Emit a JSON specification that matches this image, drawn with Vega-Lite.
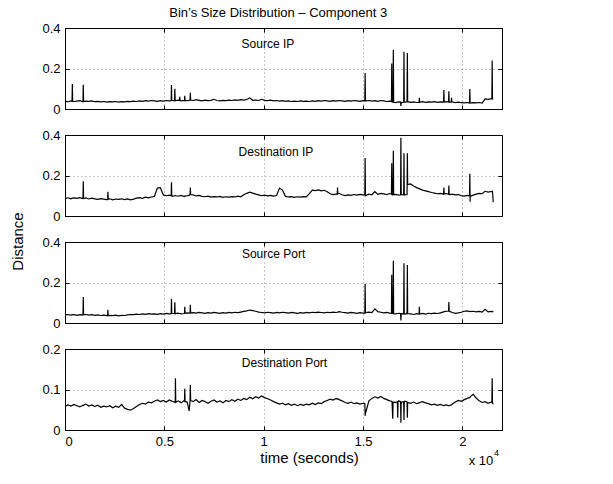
{
"$schema": "https://vega.github.io/schema/vega-lite/v6.json",
"padding": {"left": 9, "top": 6, "right": 5, "bottom": 5},
"title": {"text": "Bin’s Size Distribution – Component 3", "font": "Liberation Sans", "fontSize": 13, "fontWeight": "normal", "color": "black", "anchor": "middle", "offset": 2, "dx": 22},
"config": {
 "font": "Liberation Sans",
 "view": {"stroke": "black", "strokeWidth": 1},
 "axis": {"domainColor": "black", "domainWidth": 1, "tickColor": "black", "tickSize": -4, "labelFontSize": 13, "labelColor": "black", "labelFont": "Liberation Sans", "labelPadding": 9, "gridColor": "black", "gridDash": [1, 3], "gridOpacity": 0.55, "gridWidth": 0.8, "titleFontSize": 15, "titleFontWeight": "normal", "titleColor": "black", "titleFont": "Liberation Sans"}
},
"data": {"values": [
{"t":0,"a":0.038,"b":0.086,"c":0.040,"d":0.058},
{"t":150,"a":0.036,"b":0.090,"c":0.042,"d":0.062},
{"t":300,"a":0.040,"b":0.085,"c":0.039,"d":0.059},
{"t":450,"a":0.037,"b":0.089,"c":0.041,"d":0.063},
{"t":600,"a":0.039,"b":0.087,"c":0.038,"d":0.060},
{"t":750,"a":0.041,"b":0.091,"c":0.041,"d":0.057},
{"t":900,"a":0.036,"b":0.086,"c":0.040,"d":0.061},
{"t":1050,"a":0.039,"b":0.089,"c":0.042,"d":0.064},
{"t":1200,"a":0.038,"b":0.084,"c":0.039,"d":0.059},
{"t":1350,"a":0.040,"b":0.088,"c":0.041,"d":0.062},
{"t":1500,"a":0.036,"b":0.085,"c":0.038,"d":0.058},
{"t":1650,"a":0.038,"b":0.082,"c":0.040,"d":0.061},
{"t":1800,"a":0.035,"b":0.086,"c":0.037,"d":0.056},
{"t":1950,"a":0.037,"b":0.083,"c":0.039,"d":0.059},
{"t":2100,"a":0.034,"b":0.081,"c":0.036,"d":0.057},
{"t":2250,"a":0.036,"b":0.085,"c":0.038,"d":0.060},
{"t":2400,"a":0.035,"b":0.080,"c":0.036,"d":0.055},
{"t":2550,"a":0.037,"b":0.084,"c":0.039,"d":0.059},
{"t":2700,"a":0.034,"b":0.082,"c":0.035,"d":0.056},
{"t":2850,"a":0.036,"b":0.085,"c":0.038,"d":0.063},
{"t":3000,"a":0.035,"b":0.081,"c":0.037,"d":0.054},
{"t":3150,"a":0.038,"b":0.084,"c":0.040,"d":0.051},
{"t":3300,"a":0.036,"b":0.080,"c":0.042,"d":0.049},
{"t":3450,"a":0.039,"b":0.083,"c":0.041,"d":0.053},
{"t":3600,"a":0.037,"b":0.088,"c":0.044,"d":0.058},
{"t":3750,"a":0.040,"b":0.091,"c":0.042,"d":0.063},
{"t":3900,"a":0.038,"b":0.087,"c":0.045,"d":0.066},
{"t":4050,"a":0.041,"b":0.093,"c":0.043,"d":0.064},
{"t":4200,"a":0.039,"b":0.090,"c":0.046,"d":0.069},
{"t":4350,"a":0.042,"b":0.094,"c":0.044,"d":0.067},
{"t":4500,"a":0.040,"b":0.097,"c":0.045,"d":0.071},
{"t":4650,"a":0.038,"b":0.138,"c":0.043,"d":0.074},
{"t":4800,"a":0.041,"b":0.140,"c":0.046,"d":0.070},
{"t":4950,"a":0.039,"b":0.104,"c":0.044,"d":0.073},
{"t":5100,"a":0.042,"b":0.100,"c":0.047,"d":0.069},
{"t":5250,"a":0.040,"b":0.103,"c":0.045,"d":0.074},
{"t":5400,"a":0.043,"b":0.097,"c":0.048,"d":0.071},
{"t":5550,"a":0.041,"b":0.101,"c":0.046,"d":0.068},
{"t":5700,"a":0.044,"b":0.098,"c":0.049,"d":0.072},
{"t":5850,"a":0.040,"b":0.102,"c":0.045,"d":0.067},
{"t":6000,"a":0.043,"b":0.096,"c":0.047,"d":0.073},
{"t":6150,"a":0.041,"b":0.100,"c":0.050,"d":0.069},
{"t":6450,"a":0.042,"b":0.104,"c":0.051,"d":0.070},
{"t":6600,"a":0.046,"b":0.099,"c":0.049,"d":0.075},
{"t":6750,"a":0.043,"b":0.102,"c":0.052,"d":0.068},
{"t":6900,"a":0.040,"b":0.097,"c":0.050,"d":0.073},
{"t":7050,"a":0.044,"b":0.095,"c":0.048,"d":0.070},
{"t":7200,"a":0.041,"b":0.098,"c":0.051,"d":0.066},
{"t":7350,"a":0.043,"b":0.093,"c":0.049,"d":0.071},
{"t":7500,"a":0.048,"b":0.096,"c":0.052,"d":0.074},
{"t":7650,"a":0.042,"b":0.094,"c":0.050,"d":0.069},
{"t":7800,"a":0.040,"b":0.097,"c":0.048,"d":0.072},
{"t":7950,"a":0.043,"b":0.092,"c":0.051,"d":0.067},
{"t":8100,"a":0.041,"b":0.095,"c":0.049,"d":0.073},
{"t":8250,"a":0.044,"b":0.093,"c":0.052,"d":0.070},
{"t":8400,"a":0.042,"b":0.096,"c":0.050,"d":0.075},
{"t":8550,"a":0.045,"b":0.094,"c":0.053,"d":0.071},
{"t":8700,"a":0.043,"b":0.098,"c":0.051,"d":0.076},
{"t":8850,"a":0.046,"b":0.095,"c":0.054,"d":0.073},
{"t":9000,"a":0.044,"b":0.105,"c":0.057,"d":0.078},
{"t":9150,"a":0.047,"b":0.112,"c":0.060,"d":0.075},
{"t":9300,"a":0.055,"b":0.118,"c":0.064,"d":0.081},
{"t":9450,"a":0.043,"b":0.113,"c":0.061,"d":0.077},
{"t":9600,"a":0.044,"b":0.108,"c":0.058,"d":0.082},
{"t":9750,"a":0.042,"b":0.104,"c":0.054,"d":0.079},
{"t":9900,"a":0.048,"b":0.100,"c":0.052,"d":0.084},
{"t":10050,"a":0.043,"b":0.103,"c":0.050,"d":0.080},
{"t":10200,"a":0.041,"b":0.099,"c":0.053,"d":0.077},
{"t":10350,"a":0.044,"b":0.102,"c":0.051,"d":0.074},
{"t":10500,"a":0.040,"b":0.098,"c":0.049,"d":0.070},
{"t":10650,"a":0.042,"b":0.101,"c":0.052,"d":0.067},
{"t":10800,"a":0.039,"b":0.138,"c":0.050,"d":0.064},
{"t":10950,"a":0.041,"b":0.128,"c":0.053,"d":0.066},
{"t":11100,"a":0.038,"b":0.097,"c":0.051,"d":0.062},
{"t":11250,"a":0.040,"b":0.094,"c":0.049,"d":0.065},
{"t":11400,"a":0.037,"b":0.096,"c":0.052,"d":0.061},
{"t":11550,"a":0.039,"b":0.092,"c":0.050,"d":0.064},
{"t":11700,"a":0.037,"b":0.095,"c":0.048,"d":0.060},
{"t":11850,"a":0.040,"b":0.093,"c":0.051,"d":0.063},
{"t":12000,"a":0.038,"b":0.096,"c":0.049,"d":0.061},
{"t":12150,"a":0.039,"b":0.094,"c":0.052,"d":0.064},
{"t":12300,"a":0.037,"b":0.110,"c":0.050,"d":0.062},
{"t":12450,"a":0.040,"b":0.128,"c":0.053,"d":0.066},
{"t":12600,"a":0.038,"b":0.125,"c":0.051,"d":0.063},
{"t":12750,"a":0.041,"b":0.129,"c":0.054,"d":0.067},
{"t":12900,"a":0.039,"b":0.124,"c":0.052,"d":0.065},
{"t":13050,"a":0.042,"b":0.127,"c":0.050,"d":0.070},
{"t":13200,"a":0.040,"b":0.120,"c":0.053,"d":0.073},
{"t":13350,"a":0.038,"b":0.110,"c":0.051,"d":0.076},
{"t":13500,"a":0.041,"b":0.106,"c":0.054,"d":0.074},
{"t":13650,"a":0.039,"b":0.108,"c":0.052,"d":0.078},
{"t":13800,"a":0.042,"b":0.112,"c":0.056,"d":0.075},
{"t":13950,"a":0.040,"b":0.105,"c":0.053,"d":0.072},
{"t":14100,"a":0.038,"b":0.101,"c":0.051,"d":0.068},
{"t":14250,"a":0.041,"b":0.104,"c":0.049,"d":0.066},
{"t":14400,"a":0.039,"b":0.102,"c":0.052,"d":0.069},
{"t":14550,"a":0.042,"b":0.106,"c":0.050,"d":0.065},
{"t":14700,"a":0.040,"b":0.103,"c":0.048,"d":0.067},
{"t":14850,"a":0.038,"b":0.107,"c":0.051,"d":0.064},
{"t":15000,"a":0.041,"b":0.104,"c":0.049,"d":0.066},
{"t":15150,"a":0.040,"b":0.102,"c":0.052,"d":0.045},
{"t":15300,"a":0.042,"b":0.108,"c":0.054,"d":0.072},
{"t":15450,"a":0.039,"b":0.105,"c":0.051,"d":0.078},
{"t":15600,"a":0.041,"b":0.120,"c":0.070,"d":0.082},
{"t":15750,"a":0.038,"b":0.107,"c":0.056,"d":0.079},
{"t":15900,"a":0.042,"b":0.112,"c":0.053,"d":0.083},
{"t":16050,"a":0.040,"b":0.109,"c":0.050,"d":0.078},
{"t":16200,"a":0.037,"b":0.106,"c":0.052,"d":0.075},
{"t":16350,"a":0.039,"b":0.111,"c":0.049,"d":0.072},
{"t":16500,"a":0.034,"b":0.104,"c":0.047,"d":0.028},
{"t":16650,"a":0.032,"b":0.107,"c":0.045,"d":0.068},
{"t":16800,"a":0.035,"b":0.103,"c":0.048,"d":0.072},
{"t":16950,"a":0.031,"b":0.106,"c":0.046,"d":0.069},
{"t":17100,"a":0.034,"b":0.104,"c":0.044,"d":0.071},
{"t":17250,"a":0.036,"b":0.155,"c":0.047,"d":0.068},
{"t":17400,"a":0.033,"b":0.158,"c":0.045,"d":0.066},
{"t":17550,"a":0.035,"b":0.148,"c":0.042,"d":0.069},
{"t":17700,"a":0.032,"b":0.140,"c":0.046,"d":0.065},
{"t":18000,"a":0.036,"b":0.128,"c":0.047,"d":0.070},
{"t":18150,"a":0.033,"b":0.124,"c":0.044,"d":0.067},
{"t":18300,"a":0.035,"b":0.120,"c":0.048,"d":0.065},
{"t":18450,"a":0.034,"b":0.116,"c":0.046,"d":0.062},
{"t":18600,"a":0.036,"b":0.113,"c":0.049,"d":0.064},
{"t":18750,"a":0.033,"b":0.110,"c":0.047,"d":0.061},
{"t":18900,"a":0.035,"b":0.112,"c":0.050,"d":0.063},
{"t":19200,"a":0.036,"b":0.111,"c":0.058,"d":0.062},
{"t":19500,"a":0.035,"b":0.108,"c":0.052,"d":0.064},
{"t":19650,"a":0.032,"b":0.104,"c":0.048,"d":0.069},
{"t":19800,"a":0.034,"b":0.106,"c":0.050,"d":0.073},
{"t":19950,"a":0.031,"b":0.101,"c":0.053,"d":0.071},
{"t":20100,"a":0.030,"b":0.098,"c":0.058,"d":0.075},
{"t":20250,"a":0.032,"b":0.102,"c":0.060,"d":0.078},
{"t":20400,"a":0.029,"b":0.097,"c":0.056,"d":0.082},
{"t":20550,"a":0.031,"b":0.103,"c":0.058,"d":0.088},
{"t":20700,"a":0.030,"b":0.108,"c":0.055,"d":0.079},
{"t":20850,"a":0.032,"b":0.112,"c":0.057,"d":0.072},
{"t":21000,"a":0.029,"b":0.110,"c":0.054,"d":0.068},
{"t":21150,"a":0.050,"b":0.122,"c":0.068,"d":0.070},
{"t":21300,"a":0.048,"b":0.118,"c":0.055,"d":0.066},
{"t":21450,"a":0.051,"b":0.121,"c":0.057,"d":0.069},
{"t":21560,"a":0.050,"b":0.068,"c":0.054,"d":0.064},
{"t":355,"a":0.038,"b":0.088,"c":0.040,"d":0.061},
{"t":370,"a":0.123,"b":0.088,"c":0.040,"d":0.061},
{"t":385,"a":0.038,"b":0.088,"c":0.041,"d":0.061},
{"t":905,"a":0.037,"b":0.087,"c":0.040,"d":0.060},
{"t":920,"a":0.120,"b":0.171,"c":0.128,"d":0.060},
{"t":935,"a":0.037,"b":0.086,"c":0.040,"d":0.061},
{"t":2145,"a":0.035,"b":0.082,"c":0.037,"d":0.058},
{"t":2160,"a":0.035,"b":0.120,"c":0.065,"d":0.058},
{"t":2175,"a":0.035,"b":0.082,"c":0.037,"d":0.058},
{"t":5345,"a":0.041,"b":0.100,"c":0.046,"d":0.072},
{"t":5360,"a":0.118,"b":0.167,"c":0.120,"d":0.072},
{"t":5375,"a":0.042,"b":0.099,"c":0.047,"d":0.071},
{"t":5515,"a":0.041,"b":0.100,"c":0.046,"d":0.069},
{"t":5530,"a":0.100,"b":0.100,"c":0.103,"d":0.069},
{"t":5545,"a":0.041,"b":0.101,"c":0.046,"d":0.068},
{"t":5560,"a":0.041,"b":0.101,"c":0.046,"d":0.128},
{"t":5575,"a":0.042,"b":0.100,"c":0.047,"d":0.068},
{"t":5765,"a":0.042,"b":0.100,"c":0.047,"d":0.070},
{"t":5780,"a":0.060,"b":0.100,"c":0.047,"d":0.070},
{"t":5795,"a":0.042,"b":0.100,"c":0.047,"d":0.069},
{"t":6015,"a":0.042,"b":0.098,"c":0.048,"d":0.071},
{"t":6030,"a":0.065,"b":0.098,"c":0.080,"d":0.102},
{"t":6045,"a":0.042,"b":0.098,"c":0.048,"d":0.070},
{"t":6250,"a":0.043,"b":0.102,"c":0.049,"d":0.047},
{"t":6295,"a":0.044,"b":0.105,"c":0.049,"d":0.072},
{"t":6310,"a":0.080,"b":0.140,"c":0.090,"d":0.112},
{"t":6325,"a":0.044,"b":0.106,"c":0.049,"d":0.073},
{"t":13705,"a":0.040,"b":0.108,"c":0.053,"d":0.076},
{"t":13720,"a":0.040,"b":0.140,"c":0.053,"d":0.076},
{"t":13735,"a":0.041,"b":0.109,"c":0.054,"d":0.077},
{"t":15095,"a":0.040,"b":0.104,"c":0.050,"d":0.065},
{"t":15110,"a":0.178,"b":0.286,"c":0.192,"d":0.035},
{"t":15125,"a":0.040,"b":0.100,"c":0.050,"d":0.042},
{"t":16435,"a":0.037,"b":0.108,"c":0.048,"d":0.071},
{"t":16450,"a":0.225,"b":0.260,"c":0.238,"d":0.071},
{"t":16465,"a":0.035,"b":0.105,"c":0.047,"d":0.070},
{"t":16515,"a":0.034,"b":0.105,"c":0.047,"d":0.068},
{"t":16530,"a":0.293,"b":0.322,"c":0.307,"d":0.068},
{"t":16545,"a":0.033,"b":0.106,"c":0.046,"d":0.069},
{"t":16735,"a":0.034,"b":0.105,"c":0.047,"d":0.070},
{"t":16750,"a":0.034,"b":0.105,"c":0.047,"d":0.030},
{"t":16765,"a":0.034,"b":0.104,"c":0.047,"d":0.069},
{"t":16895,"a":0.034,"b":0.105,"c":0.047,"d":0.070},
{"t":16910,"a":0.015,"b":0.387,"c":0.012,"d":0.018},
{"t":16925,"a":0.033,"b":0.106,"c":0.046,"d":0.069},
{"t":17050,"a":0.034,"b":0.105,"c":0.045,"d":0.070},
{"t":17065,"a":0.283,"b":0.310,"c":0.295,"d":0.025},
{"t":17080,"a":0.034,"b":0.104,"c":0.045,"d":0.070},
{"t":17220,"a":0.035,"b":0.106,"c":0.046,"d":0.069},
{"t":17235,"a":0.277,"b":0.310,"c":0.287,"d":0.030},
{"t":17825,"a":0.033,"b":0.135,"c":0.044,"d":0.067},
{"t":17840,"a":0.055,"b":0.135,"c":0.080,"d":0.067},
{"t":17855,"a":0.033,"b":0.134,"c":0.044,"d":0.068},
{"t":19060,"a":0.034,"b":0.108,"c":0.055,"d":0.060},
{"t":19075,"a":0.094,"b":0.140,"c":0.056,"d":0.060},
{"t":19090,"a":0.034,"b":0.109,"c":0.056,"d":0.061},
{"t":19310,"a":0.034,"b":0.107,"c":0.059,"d":0.060},
{"t":19325,"a":0.088,"b":0.150,"c":0.103,"d":0.060},
{"t":19340,"a":0.034,"b":0.106,"c":0.059,"d":0.060},
{"t":19445,"a":0.034,"b":0.107,"c":0.054,"d":0.062},
{"t":19460,"a":0.055,"b":0.107,"c":0.054,"d":0.062},
{"t":19475,"a":0.035,"b":0.107,"c":0.053,"d":0.063},
{"t":20365,"a":0.030,"b":0.100,"c":0.057,"d":0.080},
{"t":20380,"a":0.099,"b":0.208,"c":0.057,"d":0.080},
{"t":20395,"a":0.030,"b":0.070,"c":0.057,"d":0.081},
{"t":21490,"a":0.050,"b":0.120,"c":0.056,"d":0.068},
{"t":21505,"a":0.239,"b":0.121,"c":0.056,"d":0.128},
{"t":21520,"a":0.050,"b":0.122,"c":0.057,"d":0.067}
]},
"spacing": 26,
"bounds": "flush",
"vconcat": [
 {"width": 437, "height": 81,
  "resolve": {"axis": {"x": "independent", "y": "independent"}},
  "layer": [
   {"mark": {"type": "line", "color": "black", "strokeWidth": 1.2, "clip": true},
    "encoding": {
     "x": {"field": "t", "type": "quantitative", "scale": {"domain": [0, 22000], "nice": false}, "axis": {"values": [0, 5000, 10000, 15000, 20000], "labels": false, "title": null, "grid": true}},
     "y": {"field": "a", "type": "quantitative", "scale": {"domain": [0, 0.4], "nice": false}, "axis": {"values": [0, 0.2, 0.4], "format": "~g", "title": null, "grid": true}}}},
   {"data": {"values": [{"label": "Source IP"}]}, "mark": {"type": "text", "fontSize": 12, "color": "black"},
    "encoding": {"text": {"field": "label"}, "x": {"datum": 10216, "axis": {"orient": "top", "values": [0, 5000, 10000, 15000, 20000], "labels": false, "domain": false, "grid": false, "title": null}}, "y": {"datum": 0.321, "axis": {"orient": "right", "values": [0, 0.2, 0.4], "labels": false, "domain": false, "grid": false, "title": null}}}}
  ]},
 {"width": 437, "height": 81,
  "resolve": {"axis": {"x": "independent", "y": "independent"}},
  "layer": [
   {"mark": {"type": "line", "color": "black", "strokeWidth": 1.2, "clip": true},
    "encoding": {
     "x": {"field": "t", "type": "quantitative", "scale": {"domain": [0, 22000], "nice": false}, "axis": {"values": [0, 5000, 10000, 15000, 20000], "labels": false, "title": null, "grid": true}},
     "y": {"field": "b", "type": "quantitative", "scale": {"domain": [0, 0.4], "nice": false}, "axis": {"values": [0, 0.2, 0.4], "format": "~g", "title": null, "grid": true}}}},
   {"data": {"values": [{"label": "Destination IP"}]}, "mark": {"type": "text", "fontSize": 12, "color": "black"},
    "encoding": {"text": {"field": "label"}, "x": {"datum": 10620, "axis": {"orient": "top", "values": [0, 5000, 10000, 15000, 20000], "labels": false, "domain": false, "grid": false, "title": null}}, "y": {"datum": 0.317, "axis": {"orient": "right", "values": [0, 0.2, 0.4], "labels": false, "domain": false, "grid": false, "title": null}}}}
  ]},
 {"width": 437, "height": 81,
  "resolve": {"axis": {"x": "independent", "y": "independent"}},
  "layer": [
   {"mark": {"type": "line", "color": "black", "strokeWidth": 1.2, "clip": true},
    "encoding": {
     "x": {"field": "t", "type": "quantitative", "scale": {"domain": [0, 22000], "nice": false}, "axis": {"values": [0, 5000, 10000, 15000, 20000], "labels": false, "title": null, "grid": true}},
     "y": {"field": "c", "type": "quantitative", "scale": {"domain": [0, 0.4], "nice": false}, "axis": {"values": [0, 0.2, 0.4], "format": "~g", "grid": true, "title": "Distance", "titleX": -48, "titleY": -1, "titleAngle": -90, "titleAlign": "center", "titleBaseline": "middle"}}}},
   {"data": {"values": [{"label": "Source Port"}]}, "mark": {"type": "text", "fontSize": 12, "color": "black"},
    "encoding": {"text": {"field": "label"}, "x": {"datum": 10500, "axis": {"orient": "top", "values": [0, 5000, 10000, 15000, 20000], "labels": false, "domain": false, "grid": false, "title": null}}, "y": {"datum": 0.34, "axis": {"orient": "right", "values": [0, 0.2, 0.4], "labels": false, "domain": false, "grid": false, "title": null}}}}
  ]},
 {"width": 437, "height": 81,
  "resolve": {"axis": {"x": "independent", "y": "independent"}},
  "layer": [
   {"mark": {"type": "line", "color": "black", "strokeWidth": 1.2, "clip": true},
    "encoding": {
     "x": {"field": "t", "type": "quantitative", "scale": {"domain": [0, 22000], "nice": false}, "axis": {"values": [0, 5000, 10000, 15000, 20000], "labelExpr": "format(datum.value / 10000, '~g')", "grid": true, "title": "time (seconds)", "titleX": 244, "titleY": 20, "titleAlign": "center", "titleBaseline": "top"}},
     "y": {"field": "d", "type": "quantitative", "scale": {"domain": [0, 0.2], "nice": false}, "axis": {"values": [0, 0.1, 0.2], "format": "~g", "title": null, "grid": true}}}},
   {"data": {"values": [{"label": "Destination Port"}]}, "mark": {"type": "text", "fontSize": 12, "color": "black"},
    "encoding": {"text": {"field": "label"}, "x": {"datum": 11050, "axis": {"orient": "top", "values": [0, 5000, 10000, 15000, 20000], "labels": false, "domain": false, "grid": false, "title": null}}, "y": {"datum": 0.166, "axis": {"orient": "right", "values": [0, 0.1, 0.2], "labels": false, "domain": false, "grid": false, "title": null}}}},
   {"data": {"values": [{"label": "x 10"}]}, "mark": {"type": "text", "fontSize": 13, "color": "black", "align": "right", "clip": false},
    "encoding": {"text": {"field": "label"}, "x": {"datum": 21560, "axis": null}, "y": {"datum": -0.076, "axis": null}}},
   {"data": {"values": [{"label": "4"}]}, "mark": {"type": "text", "fontSize": 9, "color": "black", "align": "left", "clip": false},
    "encoding": {"text": {"field": "label"}, "x": {"datum": 21600, "axis": null}, "y": {"datum": -0.056, "axis": null}}}
  ]}
]
}
